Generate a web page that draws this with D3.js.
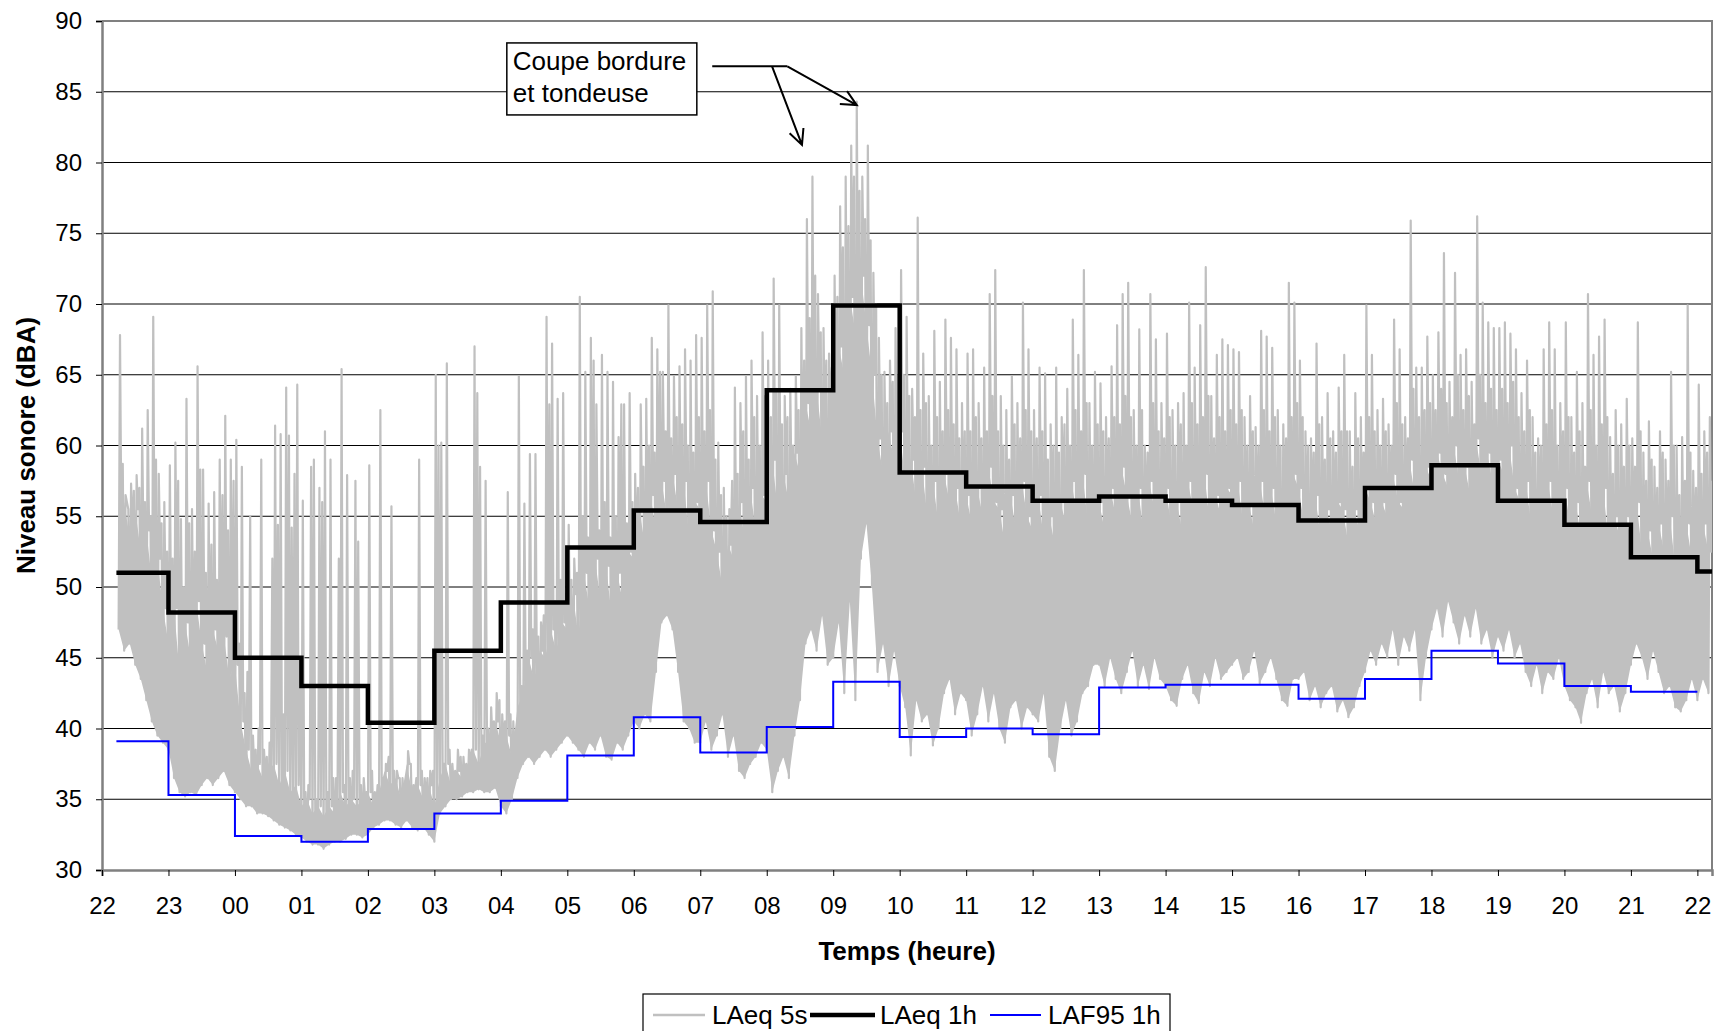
<!DOCTYPE html>
<html>
<head>
<meta charset="utf-8">
<script src="https://cdn.jsdelivr.net/npm/d3@7"></script>
<style>
  body { margin: 0; background: #fff; }
  svg { display: block; }
  text { font-family: "Liberation Sans", Arial, sans-serif; }
</style>
</head>
<body>
<div id="vis-holder"></div>
<script>
// Tick labels of the time axis (one per hour, 22h to 22h next day)
const hourLabels = ["22","23","00","01","02","03","04","05","06","07","08","09","10",
                    "11","12","13","14","15","16","17","18","19","20","21","22"];

// LAeq 1h, one value per hour starting 22h (last one = 22h-22h13)
const laeq1h = [51.0, 48.2, 45.0, 43.0, 40.4, 45.5, 48.9, 52.8, 55.4, 54.6, 63.9, 69.9,
                58.1, 57.1, 56.1, 56.4, 56.1, 55.8, 54.7, 57.0, 58.6, 56.1, 54.4, 52.1, 51.1];

// LAF95 1h, one value per hour starting 22h
const laf95 = [39.1, 35.3, 32.4, 32.0, 32.9, 34.0, 34.9, 38.1, 40.8, 38.3, 40.1, 43.3,
               39.4, 40.0, 39.6, 42.9, 43.1, 43.1, 42.1, 43.5, 45.5, 44.6, 43.0, 42.6];

// LAeq 5s read off the picture as 5-minute bins from 22h15:
// lowest level, top of the dense band, first and second peak of each bin
const lae5sLo = [
  47.0, 45.5, 46.0, 44.5, 43.5, 42.0, 40.5, 39.5, 39.0,                     // 22
  38.5, 36.5, 35.5, 35.2, 35.5, 35.3, 36.0, 36.5, 36.0, 36.5, 37.0, 36.0,   // 23
  35.5, 35.0, 34.5, 34.5, 34.0, 34.0, 33.8, 33.5, 33.2, 33.0, 32.8, 32.5,   // 00
  32.3, 32.0, 31.8, 31.8, 31.5, 31.8, 32.0, 32.0, 32.2, 32.5, 32.5, 32.3,   // 01
  32.5, 33.0, 33.2, 33.5, 33.5, 33.2, 33.0, 33.5, 33.0, 32.8, 33.0, 32.5,   // 02
  32.0, 34.0, 34.5, 35.0, 35.0, 35.2, 35.5, 35.5, 35.7, 35.5, 35.5, 35.8,   // 03
  34.5, 34.0, 35.0, 36.5, 37.5, 38.0, 37.5, 38.0, 38.5, 38.0, 38.5, 39.0,   // 04
  39.5, 39.0, 38.5, 38.0, 39.0, 38.5, 39.5, 38.0, 37.8, 39.0, 38.5, 39.5,   // 05
  40.5, 40.0, 41.0, 40.5, 44.0, 47.5, 48.0, 47.0, 44.0, 40.5, 40.0, 39.0,   // 06
  39.0, 40.5, 38.5, 39.5, 41.0, 38.0, 39.5, 37.0, 36.5, 37.5, 38.0, 39.0,   // 07
  38.5, 35.5, 37.0, 38.0, 36.5, 39.5, 42.0, 46.0, 47.0, 45.5, 48.0, 44.5,   // 08
  45.0, 47.5, 42.5, 49.0, 42.0, 52.0, 54.5, 50.0, 44.0, 46.0, 43.0, 45.5,   // 09
  43.0, 41.5, 38.1, 42.0, 40.5, 41.0, 38.8, 40.0, 42.5, 43.5, 41.0, 42.5,   // 10
  42.0, 39.5, 41.0, 43.0, 40.5, 42.5, 40.0, 39.0, 41.5, 42.0, 40.0, 41.5,   // 11
  41.0, 40.5, 42.5, 38.0, 37.0, 40.0, 42.0, 39.5, 40.5, 42.5, 43.0, 44.5,   // 12
  44.5, 43.0, 45.0, 43.5, 42.5, 44.0, 45.5, 43.0, 44.5, 42.8, 45.0, 43.5,   // 13
  43.0, 42.0, 41.6, 43.5, 44.5, 42.5, 41.8, 44.0, 43.0, 45.0, 43.5, 44.0,   // 14
  44.5, 45.0, 43.5, 44.0, 45.5, 43.2, 44.0, 45.0, 43.5, 42.0, 41.6, 43.5,   // 15
  43.5, 44.0, 42.0, 43.0, 41.5, 42.5, 43.0, 41.2, 42.0, 40.8, 41.5, 43.0,   // 16
  44.0, 45.5, 44.5, 46.0, 45.0, 47.0, 44.5, 46.5, 45.5, 47.0, 42.0, 45.0,   // 17
  47.0, 48.5, 46.5, 49.0, 47.5, 46.0, 48.0, 46.5, 48.5, 46.0, 47.0, 45.0,   // 18
  46.5, 45.5, 47.0, 45.0, 46.0, 44.0, 43.0, 44.5, 42.5, 44.0, 43.5, 45.0,   // 19
  43.0, 42.0, 41.5, 40.4, 42.5, 43.5, 41.5, 44.0, 42.5, 43.0, 41.2, 42.5,   // 20
  44.5, 46.0, 45.0, 43.5, 45.5, 44.0, 42.5, 43.0, 41.5, 41.2, 42.0, 43.5,   // 21
  42.0, 43.5, 42.5                                                          // 22
];
const lae5sMid = [
  54.0, 56.0, 53.5, 55.5, 52.5, 54.0, 50.5, 52.0, 48.5,
  46.0, 48.5, 44.0, 47.5, 45.0, 49.0, 46.0, 44.0, 47.0, 45.5, 46.5, 43.5,
  44.5, 40.5, 38.5, 37.0, 37.5, 36.5, 37.0, 37.5, 36.0, 37.0, 35.5, 36.0,
  34.5, 35.0, 34.0, 34.5, 33.8, 34.5, 34.0, 35.5, 34.5, 35.0, 34.5, 35.0,
  35.5, 34.5, 35.5, 37.0, 36.0, 36.5, 35.0, 37.5, 35.5, 36.0, 35.0, 36.0,
  34.5, 36.5, 37.5, 36.0, 37.0, 36.5, 37.5, 38.5, 37.5, 39.0, 39.0, 40.5,
  39.0, 39.5, 38.0, 41.5, 42.5, 45.0, 43.5, 45.5, 45.0, 47.0, 45.5, 47.5,
  47.0, 49.5, 46.5, 51.0, 48.5, 52.0, 49.0, 51.5, 48.0, 51.0, 49.0, 52.5,
  52.0, 55.5, 53.0, 56.5, 54.0, 57.5, 55.0, 58.0, 55.5, 57.5, 53.5, 56.0,
  55.5, 57.5, 54.0, 52.5, 50.0, 53.0, 52.0, 56.0, 53.5, 57.0, 54.0, 56.5,
  56.0, 59.0, 55.5, 58.0, 56.0, 59.5, 58.0, 63.0, 61.0, 64.0, 60.5, 62.0,
  62.0, 67.0, 65.0, 70.5, 68.0, 72.0, 68.5, 65.0, 60.5, 58.0, 61.0, 59.0,
  61.0, 57.5, 59.0, 56.0, 58.5, 55.0, 57.5, 54.5, 58.0, 56.0, 57.0, 54.5,
  56.5, 54.5, 57.0, 55.0, 58.5, 56.0, 55.5, 53.0, 56.5, 54.0, 57.5, 55.0,
  54.0, 56.5, 53.5, 55.0, 53.0, 56.0, 54.5, 57.5, 55.0, 58.0, 54.5, 56.0,
  56.0, 54.0, 57.0, 55.0, 58.5, 56.5, 54.5, 57.0, 54.0, 57.5, 55.5, 56.5,
  57.0, 54.5, 56.0, 54.0, 57.5, 55.5, 57.0, 58.0, 54.5, 56.5, 55.0, 57.0,
  56.5, 57.5, 54.5, 56.0, 54.0, 57.5, 55.0, 57.0, 54.5, 55.0, 57.0, 58.0,
  57.0, 54.5, 55.0, 56.5, 53.5, 55.5, 54.0, 56.0, 55.5, 53.0, 55.5, 54.0,
  57.0, 56.0, 54.5, 56.0, 55.0, 58.0, 56.0, 55.5, 59.0, 56.5, 57.0, 58.5,
  57.5, 59.5, 58.0, 57.0, 60.0, 57.5, 58.5, 56.5, 60.5, 58.0, 59.5, 57.5,
  59.0, 58.0, 60.0, 57.0, 56.0, 57.5, 54.5, 55.0, 56.5, 57.5, 55.0, 56.0,
  57.0, 54.5, 56.0, 53.5, 57.5, 55.0, 56.5, 57.0, 53.0, 55.0, 53.5, 55.0,
  53.5, 56.0, 52.5, 54.0, 52.0, 54.5, 52.5, 55.0, 51.5, 52.5, 54.5, 52.0,
  53.0, 54.5, 52.5
];
const lae5sHi = [
  67.8, 56.5, 57.3, 57.9, 61.2, 62.5, 69.1, 58.0, 56.0,
  58.6, 60.2, 54.8, 63.3, 55.5, 65.6, 58.3, 55.9, 56.7, 59.0, 62.1, 59.0,
  60.4, 58.5, 44.0, 39.5, 40.0, 38.5, 39.0, 61.4, 60.8, 64.1, 54.2, 64.3,
  56.1, 36.0, 59.0, 57.0, 61.0, 59.0, 36.5, 65.4, 57.9, 37.0, 53.2, 36.5,
  58.6, 35.5, 62.5, 37.5, 55.7, 37.0, 36.5, 38.4, 36.0, 59.0, 36.5, 37.0,
  65.0, 60.2, 65.8, 37.5, 38.5, 38.0, 38.5, 67.0, 58.5, 57.5, 41.5, 42.5,
  41.0, 56.7, 40.5, 64.9, 55.9, 59.4, 59.4, 47.5, 69.1, 67.2, 63.3, 63.7,
  54.4, 52.0, 70.5, 65.2, 67.6, 62.9, 66.4, 65.2, 64.5, 60.6, 62.9, 63.7,
  58.0, 62.9, 63.3, 67.6, 66.8, 65.2, 69.9, 64.9, 65.6, 66.8, 66.0, 67.8,
  67.6, 69.9, 70.9, 60.2, 57.0, 55.5, 64.1, 63.0, 64.9, 66.0, 63.5, 68.0,
  66.0, 71.8, 69.9, 63.5, 64.0, 64.9, 68.3, 76.0, 79.0, 70.7, 68.3, 66.5,
  72.0, 76.9, 79.0, 81.2, 84.3, 79.0, 81.2, 72.2, 67.6, 65.2, 66.0, 68.3,
  72.4, 69.1, 64.0, 76.1, 66.5, 63.5, 68.1, 64.5, 68.9, 67.6, 66.8, 63.0,
  66.5, 66.8, 63.0, 65.5, 70.7, 72.4, 63.5, 62.5, 64.9, 63.0, 70.1, 66.8,
  62.5, 65.5, 65.1, 61.5, 65.5, 62.0, 64.0, 68.9, 66.4, 72.4, 63.0, 65.2,
  64.4, 62.0, 65.6, 68.5, 70.7, 71.5, 62.5, 68.2, 60.0, 70.7, 67.5, 63.0,
  67.9, 62.5, 63.0, 63.7, 70.1, 65.5, 68.5, 72.6, 63.5, 66.4, 67.5, 67.1,
  66.8, 66.6, 62.0, 63.5, 61.3, 68.1, 67.7, 66.9, 62.5, 61.5, 71.5, 70.1,
  66.0, 61.0, 60.5, 67.2, 62.0, 63.7, 61.0, 64.1, 66.4, 61.0, 63.7, 62.0,
  69.9, 66.4, 62.5, 63.3, 61.5, 68.9, 66.8, 62.0, 75.9, 65.5, 65.5, 67.7,
  65.0, 68.0, 73.6, 64.5, 72.2, 66.4, 66.8, 64.5, 76.2, 70.1, 68.7, 68.3,
  68.3, 68.7, 67.9, 66.8, 63.7, 66.0, 62.0, 60.5, 66.8, 68.7, 66.8, 63.0,
  68.7, 62.0, 65.2, 63.0, 70.7, 66.4, 67.7, 68.9, 60.6, 62.5, 61.5, 63.3,
  60.5, 68.7, 59.5, 61.7, 58.5, 61.0, 59.0, 65.2, 60.0, 60.6, 69.9, 58.2,
  64.3, 61.0, 62.0
];
const lae5sHi2 = [
  58.7, 55.5, 56.8, 57.0, 56.0, 55.0, 59.0, 54.5, 52.5,
  52.0, 57.5, 50.0, 54.5, 52.5, 58.3, 51.0, 53.0, 50.5, 56.5, 54.0, 57.5,
  46.0, 42.5, 55.0, 38.5, 59.0, 38.0, 52.0, 54.4, 41.0, 60.7, 58.0, 45.0,
  35.5, 58.5, 35.0, 56.0, 35.5, 36.5, 52.0, 36.0, 36.5, 57.5, 36.0, 35.5,
  37.0, 36.0, 36.5, 38.0, 37.0, 36.5, 36.0, 37.5, 36.5, 37.0, 36.5, 37.0,
  60.0, 37.5, 38.5, 37.0, 38.0, 37.5, 38.5, 63.7, 39.5, 40.0, 40.5, 42.0,
  40.5, 41.0, 40.0, 43.0, 45.5, 47.0, 46.5, 48.0, 62.9, 49.0, 50.5, 49.5,
  50.5, 51.0, 55.0, 53.5, 66.0, 54.0, 56.0, 53.5, 55.0, 62.9, 54.5, 56.0,
  57.0, 58.5, 60.0, 59.5, 65.2, 61.0, 60.5, 62.0, 61.5, 60.0, 59.5, 62.0,
  61.0, 62.5, 59.0, 56.5, 55.0, 57.5, 58.0, 61.0, 59.0, 62.0, 60.0, 63.5,
  62.0, 64.0, 61.5, 62.0, 60.0, 62.5, 66.0, 69.0, 72.0, 68.0, 66.0, 65.5,
  70.5, 74.0, 75.5, 79.0, 78.0, 76.0, 74.5, 70.0, 65.0, 63.0, 64.5, 65.0,
  65.0, 63.5, 62.0, 62.5, 63.0, 60.0, 62.0, 61.0, 62.5, 61.5, 60.5, 61.0,
  61.0, 62.0, 60.5, 61.0, 63.5, 61.0, 60.0, 59.0, 61.5, 60.5, 62.5, 61.0,
  60.5, 61.0, 59.0, 60.0, 59.5, 61.5, 60.0, 62.5, 61.0, 63.0, 60.0, 61.5,
  61.0, 60.5, 62.0, 61.5, 63.5, 62.0, 60.0, 62.5, 59.5, 63.0, 61.0, 60.5,
  62.0, 60.0, 61.5, 60.0, 63.0, 61.5, 62.0, 63.5, 60.5, 62.0, 61.0, 62.5,
  61.5, 62.5, 60.0, 61.0, 60.0, 62.5, 61.0, 62.0, 60.0, 60.5, 62.0, 63.0,
  62.0, 60.0, 59.5, 61.5, 59.0, 60.5, 59.5, 61.0, 61.0, 58.5, 60.5, 59.5,
  62.0, 61.0, 60.0, 61.0, 60.0, 63.0, 61.5, 60.5, 64.0, 62.0, 62.5, 63.0,
  62.5, 64.0, 63.0, 62.0, 65.0, 62.5, 63.5, 61.5, 65.0, 63.0, 64.0, 62.5,
  64.0, 63.0, 64.5, 62.0, 61.0, 62.5, 59.5, 60.0, 61.5, 62.5, 60.0, 61.0,
  62.0, 59.5, 61.0, 58.5, 62.5, 60.0, 61.5, 62.0, 58.0, 60.0, 58.5, 60.0,
  58.5, 61.0, 57.5, 59.0, 57.0, 59.5, 57.5, 60.0, 56.5, 57.5, 59.5, 57.0,
  58.0, 59.5, 57.5
];

// Time settings (hours counted from 22h)
const startHour = 13 / 60;     // measurement starts at 22h13
const endHour = 24.22;         // and stops at 22h13 next day
const greyStart = 15 / 60;     // first 5-minute bin
const binHours = 5 / 60;

// Set dimensions
const width = 1715;
const height = 1031;
const margin = { top: 21, right: 3, bottom: 161, left: 102 };
const plotBottom = height - margin.bottom;
const plotRight = width - margin.right;

const svg = d3.select("#vis-holder")
              .append("svg")
              .attr("width", width)
              .attr("height", height)
              .attr("viewBox", [0, 0, width, height]);

svg.append("rect").attr("width", width).attr("height", height).attr("fill", "#fff");

// Scales
const x = d3.scaleLinear()
            .domain([0, endHour])
            .range([margin.left, plotRight]);

const y = d3.scaleLinear()
            .domain([30, 90])
            .range([plotBottom, margin.top]);

// Horizontal gridlines
svg.append("g")
   .selectAll("line")
   .data(d3.range(35, 90, 5))
   .enter()
   .append("line")
     .attr("x1", margin.left)
     .attr("x2", plotRight)
     .attr("y1", (d) => y(d))
     .attr("y2", (d) => y(d))
     .attr("stroke", "#000")
     .attr("stroke-width", 1);

// Plot frame (top and right), grey
svg.append("path")
   .attr("d", `M${margin.left},${y(90)}H${plotRight}V${plotBottom}`)
   .attr("fill", "none")
   .attr("stroke", "#808080")
   .attr("stroke-width", 2);

svg.append("clipPath").attr("id", "plot-clip")
   .append("rect")
   .attr("x", margin.left).attr("y", margin.top)
   .attr("width", plotRight - margin.left).attr("height", plotBottom - margin.top);

const plot = svg.append("g").attr("clip-path", "url(#plot-clip)");

// LAeq 5s: dense core of each bin
const bins = lae5sLo.map((v, i) => ({
  t: greyStart + i * binHours, lo: v, mid: lae5sMid[i], hi: lae5sHi[i], hi2: lae5sHi2[i]
}));

plot.append("path")
    .datum(bins)
    .attr("fill", "#c0c0c0")
    .attr("d", d3.area()
                 .x((d) => x(d.t))
                 .y0((d) => y(d.lo))
                 .y1((d) => y(d.mid)));

// LAeq 5s: the readings of each bin in time order (low, peak, band top, second peak)
const greyPts = [];
bins.forEach((d) => {
  greyPts.push([d.t, d.lo]);
  greyPts.push([d.t + binHours / 4, d.hi]);
  greyPts.push([d.t + binHours / 2, d.mid]);
  greyPts.push([d.t + binHours * 3 / 4, d.hi2]);
});

plot.append("path")
    .datum(greyPts)
    .attr("fill", "none")
    .attr("stroke", "#c0c0c0")
    .attr("stroke-width", 2.2)
    .attr("stroke-linejoin", "round")
    .attr("d", d3.line().x((d) => x(d[0])).y((d) => y(d[1])));

// LAeq 1h step line
const laeqPts = laeq1h.map((v, i) => [i === 0 ? startHour : i, v]);
laeqPts.push([endHour, laeq1h[laeq1h.length - 1]]);

plot.append("path")
    .datum(laeqPts)
    .attr("fill", "none")
    .attr("stroke", "#000")
    .attr("stroke-width", 4.5)
    .attr("d", d3.line().curve(d3.curveStepAfter).x((d) => x(d[0])).y((d) => y(d[1])));

// LAF95 1h step line
const l95Pts = laf95.map((v, i) => [i === 0 ? startHour : i, v]);
l95Pts.push([laf95.length, laf95[laf95.length - 1]]);

plot.append("path")
    .datum(l95Pts)
    .attr("fill", "none")
    .attr("stroke", "#0000ff")
    .attr("stroke-width", 2)
    .attr("d", d3.line().curve(d3.curveStepAfter).x((d) => x(d[0])).y((d) => y(d[1])));

// Y axis
const yAxis = svg.append("g")
   .attr("transform", `translate(${margin.left},0)`)
   .call(d3.axisLeft(y).tickValues(d3.range(30, 91, 5)).tickSize(6).tickPadding(14));
yAxis.select(".domain").attr("stroke", "#808080").attr("stroke-width", 2.5);
yAxis.selectAll(".tick text").attr("font-size", "24px").attr("fill", "#000").attr("font-family", null);

// X axis
const xAxis = svg.append("g")
   .attr("transform", `translate(0,${plotBottom})`)
   .call(d3.axisBottom(x).tickValues(d3.range(0, 25)).tickFormat((i) => hourLabels[i])
           .tickSize(6).tickPadding(21));
xAxis.select(".domain").attr("stroke", "#808080").attr("stroke-width", 2.5);
xAxis.selectAll(".tick text").attr("font-size", "24px").attr("fill", "#000").attr("font-family", null);

// Axis titles
svg.append("text")
   .attr("x", (margin.left + plotRight) / 2)
   .attr("y", 960)
   .attr("text-anchor", "middle")
   .attr("font-size", "26px")
   .attr("font-weight", "bold")
   .text("Temps (heure)");

svg.append("text")
   .attr("transform", `translate(35,${(margin.top + plotBottom) / 2}) rotate(-90)`)
   .attr("text-anchor", "middle")
   .attr("font-size", "26px")
   .attr("font-weight", "bold")
   .text("Niveau sonore (dBA)");

// Annotation box with arrows
const note = svg.append("g");
note.append("rect")
    .attr("x", x(6.09)).attr("y", y(88.45))
    .attr("width", 190).attr("height", 72)
    .attr("fill", "#fff").attr("stroke", "#000").attr("stroke-width", 1.5);
note.append("text").attr("x", x(6.09) + 6).attr("y", y(88.45) + 27)
    .attr("font-size", "26px").text("Coupe bordure");
note.append("text").attr("x", x(6.09) + 6).attr("y", y(88.45) + 59)
    .attr("font-size", "26px").text("et tondeuse");

const arrowBase = [[9.18, 86.8], [10.31, 86.8]];
const arrows = [[[10.08, 86.8], [10.53, 81.24]], [[10.31, 86.8], [11.355, 84.06]]];
note.append("line")
    .attr("x1", x(arrowBase[0][0])).attr("y1", y(arrowBase[0][1]))
    .attr("x2", x(arrowBase[1][0])).attr("y2", y(arrowBase[1][1]))
    .attr("stroke", "#000").attr("stroke-width", 2);
arrows.forEach(([a, b]) => {
  const x1 = x(a[0]), y1 = y(a[1]), x2 = x(b[0]), y2 = y(b[1]);
  const ang = Math.atan2(y2 - y1, x2 - x1);
  const len = 17, spread = 0.45;
  note.append("path")
      .attr("d", `M${x1},${y1}L${x2},${y2}` +
                 `M${x2 - len * Math.cos(ang - spread)},${y2 - len * Math.sin(ang - spread)}L${x2},${y2}` +
                 `L${x2 - len * Math.cos(ang + spread)},${y2 - len * Math.sin(ang + spread)}`)
      .attr("fill", "none").attr("stroke", "#000").attr("stroke-width", 2);
});

// Legend
const legend = svg.append("g").attr("transform", "translate(643,994)");
legend.append("rect")
      .attr("width", 527).attr("height", 50)
      .attr("fill", "#fff").attr("stroke", "#000").attr("stroke-width", 1.2);

const legendItems = [
  { label: "LAeq 5s", color: "#c0c0c0", w: 2.5, x0: 10, x1: 62, tx: 69 },
  { label: "LAeq 1h", color: "#000", w: 4.5, x0: 167, x1: 232, tx: 237 },
  { label: "LAF95 1h", color: "#0000ff", w: 2, x0: 347, x1: 398, tx: 405 }
];
legendItems.forEach((d) => {
  legend.append("line")
        .attr("x1", d.x0).attr("x2", d.x1).attr("y1", 21).attr("y2", 21)
        .attr("stroke", d.color).attr("stroke-width", d.w);
  legend.append("text")
        .attr("x", d.tx).attr("y", 21).attr("dy", "0.36em")
        .attr("font-size", "26px")
        .text(d.label);
});
</script>
</body>
</html>
